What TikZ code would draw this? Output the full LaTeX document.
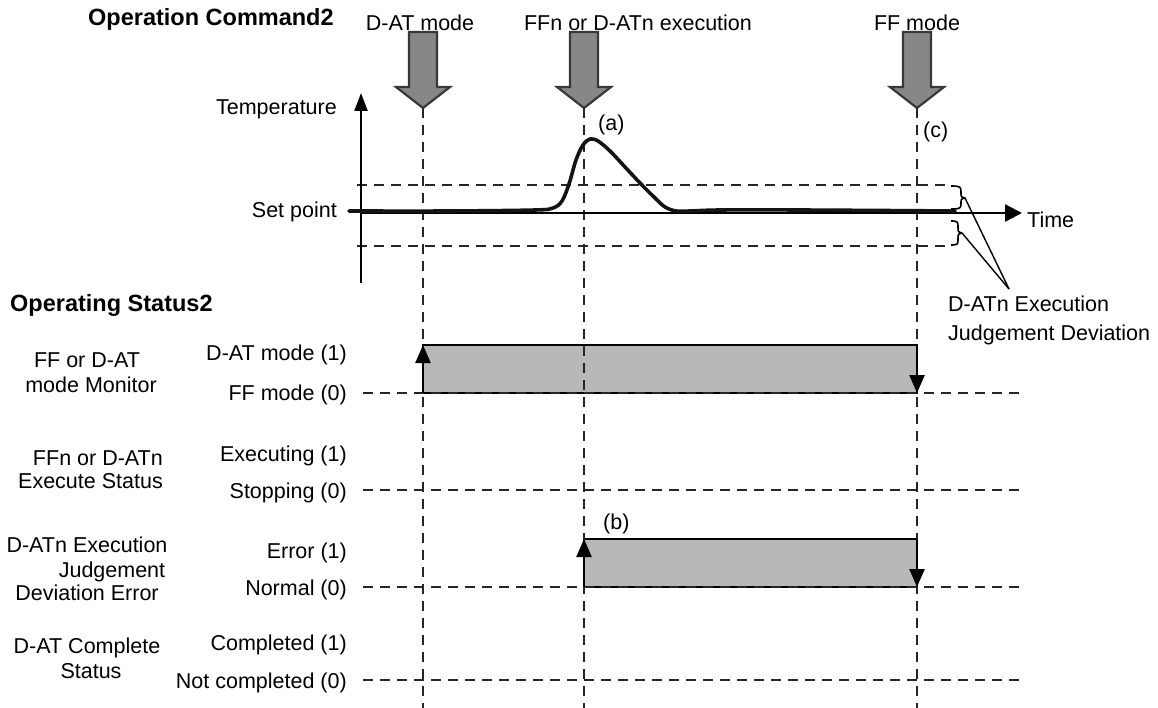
\documentclass[tikz,border=0pt]{standalone}
\usepackage{fontspec}
\setmainfont{Liberation Sans}
\usetikzlibrary{arrows.meta}
\begin{document}
\begin{tikzpicture}[x=1pt,y=-1pt,
  txt/.style={inner sep=0pt, font=\fontsize{21.5}{25}\selectfont},
  btxt/.style={inner sep=0pt, font=\fontsize{23.5}{27}\selectfont\bfseries},
  gridline/.style={draw=black!85, line width=1.1pt, dash pattern=on 10pt off 7pt},
  cmdarrow/.style={draw=black!78, line width=2.2pt, fill=black!47, line join=miter},
  bar/.style={draw=black, line width=1.6pt, fill=black!28},
  edgearrow/.style={line width=2.4pt, -{Triangle[length=18pt,width=15pt]}},
  axis/.style={line width=2.4pt},
  bracestyle/.style={line width=1.6pt, line join=round},
  leader/.style={line width=1.4pt},
]
\useasboundingbox (0,0) rectangle (1158,708);

% ---------- command arrows ----------
\foreach \n/\x in {A/423, B/584, C/917} {
  \draw[cmdarrow] (\x-14,32) -- (\x+14,32) -- (\x+14,87) -- (\x+27,87)
     -- (\x,108) -- (\x-27,87) -- (\x-14,87) -- cycle;
  \coordinate (tip\n) at (\x,108);
  \coordinate (bot\n) at (\x,708);
}

% ---------- titles ----------
\node[btxt, anchor=base west] (opcmd) at (88,26) {Operation Command2};
\node[txt, anchor=base] (cmdA) at (420,31) {D-AT mode};
\node[txt, anchor=base] (cmdB) at (638,31) {FFn or D-ATn execution};
\node[txt, anchor=base] (cmdC) at (917,31) {FF mode};
\node[btxt, anchor=base west] (opstat) at (10,312) {Operating Status2};

% ---------- bars (fills) ----------
\draw[bar] (423,345) rectangle (917,393);
\draw[bar] (584,539) rectangle (917,587);

% ---------- temperature chart ----------
\coordinate (torig) at (361,213);
\coordinate (ttop) at (361,93);
\coordinate (tbot) at (361,283);
\coordinate (tend) at (1022,213);
\coordinate (devU1) at (357,185);
\coordinate (devU2) at (950,185);
\coordinate (devL1) at (357,246);
\coordinate (devL2) at (950,246);
\draw[gridline] (devU1) -- (devU2);
\draw[gridline] (devL1) -- (devL2);

% ---------- status grid lines ----------
\foreach \n/\y in {1/393, 2/490, 3/587, 4/680} {
  \coordinate (rowS\n) at (363,\y);
  \coordinate (rowE\n) at (1020,\y);
  \draw[gridline] (rowS\n) -- (rowE\n);
}
\foreach \n in {A,B,C} \draw[gridline] (tip\n) -- (bot\n);

% ---------- axes ----------
\draw[axis, -{Triangle[length=18pt,width=13pt]}] (tbot) -- (ttop);
\draw[axis, -{Triangle[length=17pt,width=17pt]}] (torig) -- (tend);
\draw[line width=3.6pt, line cap=round, line join=round, black!92]
  plot[smooth, tension=0.55] coordinates {
   (349,211) (450,211) (535,210) (553,208) (562,201) (569,184) (576,160)
   (583,145) (590,139) (598,141) (610,151) (625,167) (640,183) (655,198)
   (665,207) (676,211) (690,211) (720,210) (800,210) (955,211)};

\node[txt, anchor=base east] (temp) at (337,115) {Temperature};
\node[txt, anchor=base east] (setp) at (337,218) {Set point};
\node[txt, anchor=base west] (time) at (1027,228) {Time};
\node[txt, anchor=base west] (la) at (598,131) {(a)};
\node[txt, anchor=base west] (lc) at (923,138) {(c)};

% ---------- deviation braces ----------
\coordinate (braceU) at (965,198);
\coordinate (braceL) at (962,233);
\draw[bracestyle] (951,186) .. controls (961,186) and (961,187) .. (961,193)
   .. controls (961,197) .. (braceU) .. controls (961,199) .. (961,203)
   .. controls (961,208) and (961,209) .. (951,209);
\draw[bracestyle] (951,221) .. controls (958,221) and (958,222) .. (958,227)
   .. controls (958,232) .. (braceL) .. controls (958,234) .. (958,239)
   .. controls (958,244) and (958,245) .. (951,245);
\coordinate (meet) at (1009,289);
\draw[leader] (braceU) -- (meet);
\draw[leader] (braceL) -- (meet);
\node[txt, anchor=base west] (dev1) at (948,312) {D-ATn Execution};
\node[txt, anchor=base west] (dev2) at (948,340) {Judgement Deviation};

% ---------- edge arrows ----------
\draw[edgearrow] (423,393) -- (423,345);
\draw[edgearrow] (917,345) -- (917,393);
\draw[edgearrow] (584,587) -- (584,539);
\draw[edgearrow] (917,539) -- (917,587);
\node[txt, anchor=base west] (lb) at (603,529) {(b)};

% ---------- row labels ----------
\node[txt, anchor=base east] (r1h) at (347,360) {D-AT mode (1)};
\node[txt, anchor=base east] (r1l) at (347,400) {FF mode (0)};
\node[txt, anchor=base east] (r2h) at (347,461) {Executing (1)};
\node[txt, anchor=base east] (r2l) at (347,498) {Stopping (0)};
\node[txt, anchor=base east] (r3h) at (347,558) {Error (1)};
\node[txt, anchor=base east] (r3l) at (347,595) {Normal (0)};
\node[txt, anchor=base east] (r4h) at (347,650) {Completed (1)};
\node[txt, anchor=base east] (r4l) at (347,688) {Not completed (0)};

\node[txt, anchor=base] (n1a) at (87,367) {FF or D-AT};
\node[txt, anchor=base] (n1b) at (91,392) {mode Monitor};
\node[txt, anchor=base east] (n2a) at (163,465) {FFn or D-ATn};
\node[txt, anchor=base east] (n2b) at (163,488) {Execute Status};
\node[txt, anchor=base] (n3a) at (87,552) {D-ATn Execution};
\node[txt, anchor=base] (n3b) at (112,577) {Judgement};
\node[txt, anchor=base] (n3c) at (87,600) {Deviation Error};
\node[txt, anchor=base] (n4a) at (87,653) {D-AT Complete};
\node[txt, anchor=base] (n4b) at (91,678) {Status};
\end{tikzpicture}
\end{document}
